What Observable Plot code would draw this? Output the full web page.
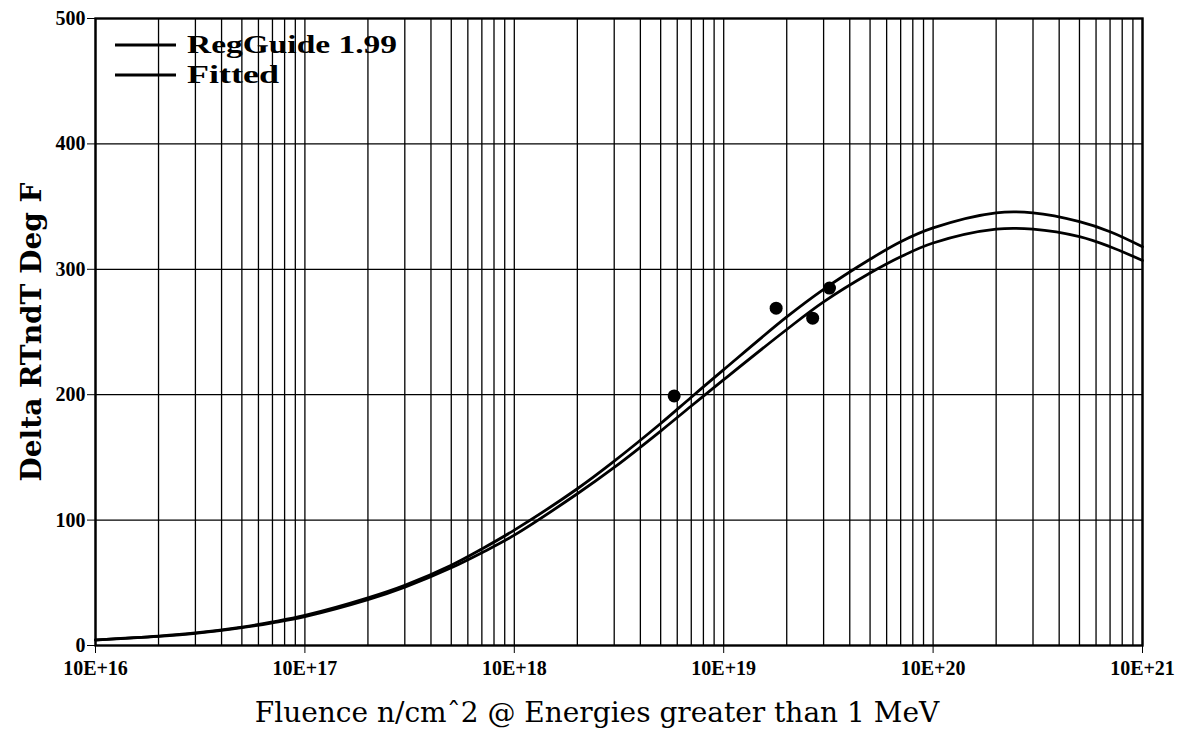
<!DOCTYPE html>
<html><head><meta charset="utf-8">
<script src="https://cdn.jsdelivr.net/npm/d3@7"></script>
<script src="https://cdn.jsdelivr.net/npm/@observablehq/plot@0.6"></script>
<style>
body{margin:0;background:#fff}
#wrap{position:relative;width:1181px;height:745px;background:#fff}
#legend{position:absolute;left:0;top:0}
</style>
</head><body><div id="wrap"></div>
<script>
// Fluence sample positions (n/cm^2)
const fluence = [1e16,2e16,3e16,5e16,7e16,1e17,2e17,3e17,5e17,7e17,1e18,2e18,3e18,5e18,7e18,1e19,2e19,3e19,5e19,7e19,1e20,2e20,3e20,5e20,7e20,1e21];
// Delta RTndT (deg F)
const regGuide = [4.5,7.5,10,14.7,18.8,24,38,48,64,77,92,125,147,177,198,220,262,284,308,322,333,345,345,338,330,318];
const fitted   = [4.3,7.2,9.6,14.2,18.1,23,36.5,46.5,62,74,88,121,142,171,191,212,252,274,297,310,321,332,332,326,318,307];
const seriesNames = ["RegGuide 1.99","Fitted"];
// measured data points
const pointFluence = [5.8e18,1.78e19,2.66e19,3.2e19];
const pointDelta   = [199,269,261,285];
// axes
const xTicks = [1e16,1e17,1e18,1e19,1e20,1e21];
const xTickLabels = ["10E+16","10E+17","10E+18","10E+19","10E+20","10E+21"];
const yTicks = [0,100,200,300,400,500];
const yGrid = [100,200,300,400];
const decades = [16,17,18,19,20];
const mantissas = [1,2,3,4,5,6,7,8,9];
const xTitle = "Fluence n/cm\u02C62 @ Energies greater than 1 MeV";
const yTitle = "Delta RTndT Deg F";

const xGrid = [];
for (const k of decades) for (const m of mantissas) xGrid.push(m * Math.pow(10, k));
xGrid.push(1e21);

const curveData = [];
fluence.forEach((f, i) => {
  curveData.push({series: seriesNames[0], fluence: f, value: regGuide[i]});
  curveData.push({series: seriesNames[1], fluence: f, value: fitted[i]});
});
const points = pointFluence.map((f, i) => ({fluence: f, value: pointDelta[i]}));

const chart = Plot.plot({
  width: 1181, height: 745,
  marginLeft: 95, marginRight: 39, marginTop: 18, marginBottom: 100,
  style: {background: "#fff", color: "#000", fontFamily: "Liberation Serif"},
  x: {type: "log", domain: [1e16, 1e21]},
  y: {domain: [0, 500]},
  marks: [
    Plot.ruleX(xGrid, {stroke: "#000", strokeWidth: 1.3}),
    Plot.ruleY(yGrid, {stroke: "#000", strokeWidth: 1.3}),
    Plot.frame({stroke: "#000", strokeWidth: 2.4}),
    Plot.axisX({ticks: xTicks, tickFormat: d => xTickLabels[xTicks.indexOf(d)], tickSize: 8, tickPadding: 7,
      fontSize: 20, fontWeight: "bold", label: null}),
    Plot.axisY({ticks: yTicks, tickSize: 8, tickPadding: 2, fontSize: 20, fontWeight: "bold", label: null}),
    Plot.line(curveData, {x: "fluence", y: "value", z: "series", stroke: "#000", strokeWidth: 2.8, curve: "catmull-rom"}),
    Plot.dot(points, {x: "fluence", y: "value", r: 6.5, fill: "#000", stroke: "none"}),
    Plot.text([xTitle], {text: d => d, frameAnchor: "bottom", dy: 76, dx: -22, fontSize: 28, fontFamily: "DejaVu Serif",
      textAnchor: "middle", style: "letter-spacing:1px"}),
    Plot.text([yTitle], {text: d => d, frameAnchor: "left", textAnchor: "middle", rotate: -90, dx: -63, fontSize: 28,
      fontWeight: "bold", fontFamily: "DejaVu Serif"})
  ]
});
document.getElementById("wrap").appendChild(chart);

// legend (inside plot, top-left)
const ns = "http://www.w3.org/2000/svg";
const lg = document.createElementNS(ns, "svg");
lg.setAttribute("id", "legend");
lg.setAttribute("width", 420); lg.setAttribute("height", 110);
const legendWidths = [210, 92];
seriesNames.forEach((name, i) => {
  const y = 45 + i * 30;
  const ln = document.createElementNS(ns, "line");
  ln.setAttribute("x1", 115); ln.setAttribute("x2", 176);
  ln.setAttribute("y1", y); ln.setAttribute("y2", y);
  ln.setAttribute("stroke", "#000"); ln.setAttribute("stroke-width", 2.8);
  lg.appendChild(ln);
  const t = document.createElementNS(ns, "text");
  t.setAttribute("x", 187); t.setAttribute("y", y + 8);
  t.setAttribute("font-family", "Liberation Serif");
  t.setAttribute("font-weight", "bold");
  t.setAttribute("font-size", 26);
  t.setAttribute("textLength", legendWidths[i]);
  t.setAttribute("lengthAdjust", "spacingAndGlyphs");
  t.textContent = name;
  lg.appendChild(t);
});
document.getElementById("wrap").appendChild(lg);
</script>
</body></html>
